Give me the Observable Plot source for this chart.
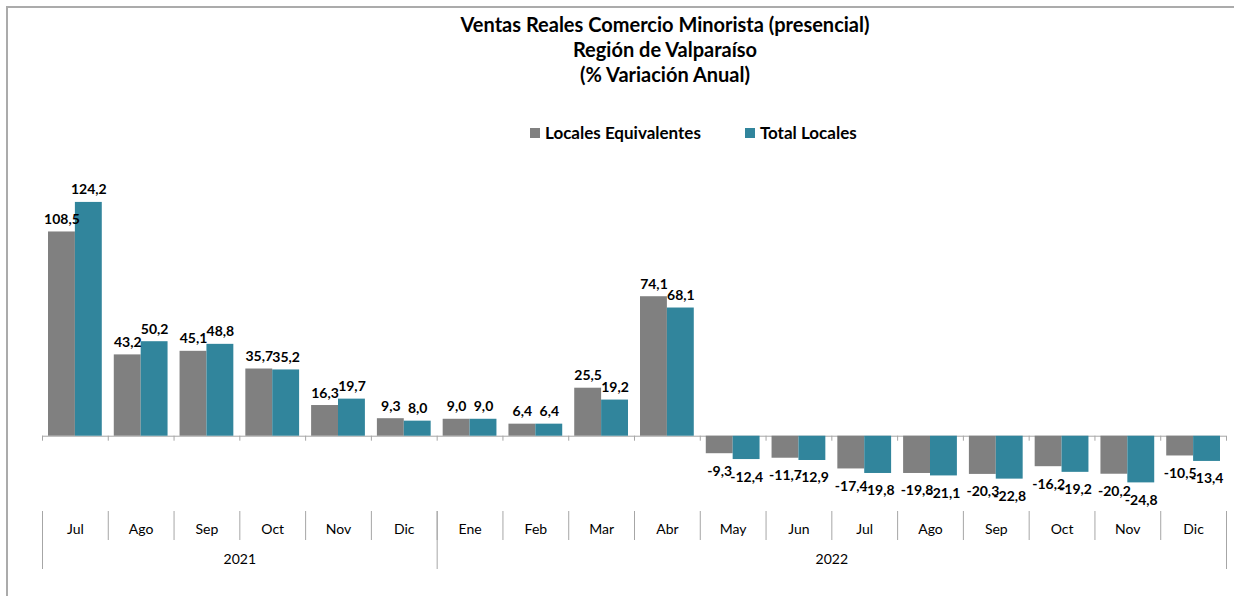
<!DOCTYPE html>
<html>
<head>
<meta charset="utf-8">
<script src="https://cdn.jsdelivr.net/npm/d3@7"></script>
<script src="https://cdn.jsdelivr.net/npm/@observablehq/plot@0.6"></script>
<style>
  body { margin: 0; background: #fff; font-family: Lato, "Open Sans", sans-serif; color: #000; }
  #wrap { position: relative; width: 1234px; height: 596px; overflow: hidden; }
  .bt { position: absolute; left: 7px; top: 6px; width: 1227px; height: 2px; background: #ababab; }
  .bl { position: absolute; left: 6px; top: 6px; width: 2px; height: 590px; background: #ababab; }
  #title { position: absolute; left: 96px; top: 12px; width: 1138px; text-align: center;
           font-weight: 700; font-size: 20px; line-height: 25px; }
  #legend { position: absolute; left: 530px; top: 123px; font-weight: 700; font-size: 17px;
            line-height: 20px; display: flex; align-items: center; white-space: nowrap; }
  #legend .sw { display: inline-block; width: 10px; height: 10px; margin-right: 5px; }
  #legend .item { display: flex; align-items: center; }
  #chart { position: absolute; left: 0; top: 150px; }
</style>
</head>
<body>
<div id="wrap">
  <div class="bt"></div><div class="bl"></div>
  <div id="title">Ventas Reales Comercio Minorista (presencial)<br>Región de Valparaíso<br>(% Variación Anual)</div>
  <div id="legend"></div>
  <div id="chart"></div>
</div>
<script>
const months = ["Jul","Ago","Sep","Oct","Nov","Dic","Ene","Feb","Mar","Abr","May","Jun","Jul","Ago","Sep","Oct","Nov","Dic"];
const years  = ["2021","2021","2021","2021","2021","2021","2022","2022","2022","2022","2022","2022","2022","2022","2022","2022","2022","2022"];
const seriesNames = ["Locales Equivalentes", "Total Locales"];
const seriesColors = ["#808080", "#31859c"];
const localesEquivalentes = [108.5, 43.2, 45.1, 35.7, 16.3, 9.3, 9.0, 6.4, 25.5, 74.1, -9.3, -11.7, -17.4, -19.8, -20.3, -16.2, -20.2, -10.5];
const totalLocales        = [124.2, 50.2, 48.8, 35.2, 19.7, 8.0, 9.0, 6.4, 19.2, 68.1, -12.4, -12.9, -19.8, -21.1, -22.8, -19.2, -24.8, -13.4];

// legend
const legend = document.getElementById("legend");
seriesNames.forEach((name, k) => {
  const item = document.createElement("span");
  item.className = "item";
  if (k > 0) item.style.marginLeft = "44px";
  const sw = document.createElement("span");
  sw.className = "sw";
  sw.style.background = seriesColors[k];
  item.appendChild(sw);
  item.appendChild(document.createTextNode(name));
  legend.appendChild(item);
});

const idx = months.map((_, i) => i);
const boundaries = [...idx, months.length];
const centers = idx.map(i => i + 0.5);
// year groups
const yearGroups = d3.groups(idx, i => years[i]).map(([y, is]) => ({year: y, start: d3.min(is), end: d3.max(is) + 1}));
const yearBounds = [...new Set(yearGroups.flatMap(g => [g.start, g.end]))];
const yearCenters = yearGroups.map(g => (g.start + g.end) / 2);
const yearByCenter = new Map(yearGroups.map(g => [(g.start + g.end) / 2, g.year]));

const fmt = v => v.toFixed(1).replace(".", ",");
const axisColor = "#a6a6a6";

function labels(values, offset, dx) {
  return [
    Plot.text(idx, {filter: i => values[i] >= 0, x: i => i + offset, y: i => values[i], text: i => fmt(values[i]),
      dx, dy: -8, lineAnchor: "bottom", fontWeight: 700, fontSize: 14, fill: "#000"}),
    Plot.text(idx, {filter: i => values[i] < 0, x: i => i + offset, y: i => values[i], text: i => fmt(values[i]),
      dx, dy: 12, lineAnchor: "top", fontWeight: 700, fontSize: 14, fill: "#000"})
  ];
}

const chart = Plot.plot({
  width: 1234,
  height: 446,
  marginLeft: 42,
  marginRight: 8,
  marginTop: 41,
  marginBottom: 85,
  style: {fontFamily: "Lato, 'Open Sans', sans-serif", fontSize: "14px", color: "#000", background: "transparent", overflow: "visible"},
  x: {type: "linear", domain: [0, months.length]},
  y: {domain: [-40, 130], axis: null},
  marks: [
    Plot.ruleY([0], {stroke: axisColor, strokeWidth: 1}),
    Plot.ruleX(boundaries, {x: d => d, y1: 0, y2: 0, insetBottom: -5, stroke: axisColor}),
    Plot.rectY(idx, {x1: i => i, x2: i => i + 0.5, y1: 0, y2: i => localesEquivalentes[i], fill: seriesColors[0], insetLeft: 6}),
    Plot.rectY(idx, {x1: i => i + 0.5, x2: i => i + 1, y1: 0, y2: i => totalLocales[i], fill: seriesColors[1], insetRight: 6}),
    ...labels(localesEquivalentes, 0.25, 3),
    ...labels(totalLocales, 0.75, -3),
    Plot.axisX(boundaries, {tickSize: 29, tickFormat: () => "", stroke: axisColor, strokeOpacity: 1, label: null}),
    Plot.axisX(centers, {tickSize: 0, tickPadding: 13, tickFormat: v => months[Math.floor(v)], fontSize: 14, fill: "#000", label: null}),
    Plot.axisX(yearBounds, {tickSize: 58, tickFormat: () => "", stroke: axisColor, strokeOpacity: 1, label: null}),
    Plot.axisX(yearCenters, {tickSize: 0, tickPadding: 43, tickFormat: v => yearByCenter.get(v), fontSize: 14, fill: "#000", label: null})
  ]
});
document.getElementById("chart").appendChild(chart);
</script>
</body>
</html>
